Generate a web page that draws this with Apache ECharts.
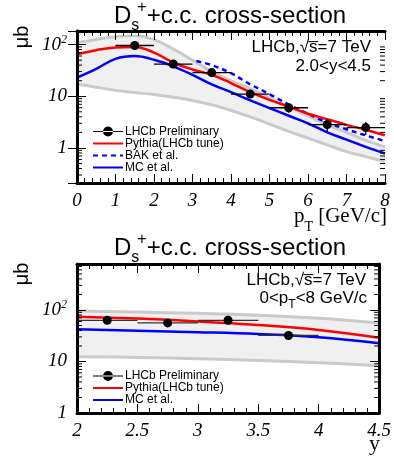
<!DOCTYPE html>
<html>
<head>
<meta charset="utf-8">
<script src="https://cdn.jsdelivr.net/npm/echarts@6/dist/echarts.min.js"></script>
<style>
  html, body { margin: 0; padding: 0; background: #fff; }
  #chart { width: 394px; height: 462px; }
</style>
</head>
<body>
<div id="chart"></div>
<script>
// ---- pT spectrum, 2.0<y<4.5 ----
const ptCenters = [1.5, 2.5, 3.5, 4.5, 5.5, 6.5, 7.5];
const ptValues = [96, 42, 28.7, 11, 6.0, 2.84, 2.48];
const ptErrors = [8, 4, 3, 1.5, 1.2, 0.8, 0.7];
const ptHalfBin = 0.5;

const ptGrid = [0, 0.5, 1, 1.5, 2, 2.5, 3, 3.5, 4, 4.5, 5, 5.5, 6, 6.5, 7, 7.5, 8];
const pythiaPt = [65, 78, 88, 90, 70, 45, 33, 26, 18, 12, 8.5, 6.3, 4.6, 3.6, 2.8, 2.25, 1.76];
const mcPt = [23, 34, 53, 60, 51, 38, 26, 17, 12, 8.3, 5.9, 4.2, 3.0, 2.0, 1.45, 1.05, 0.78];
const bandHiPt = [108, 125, 142, 148, 125, 82, 50, 30, 20, 14, 9.3, 6.3, 4.2, 2.8, 2.0, 1.4, 1.05];
const bandLoPt = [17, 15, 13, 11.8, 10.8, 9.6, 8.3, 6.8, 5.3, 4.0, 2.9, 2.1, 1.55, 1.15, 0.85, 0.68, 0.55];
const bakGrid = [3.1, 3.5, 4, 4.5, 5, 5.5, 6, 6.5, 7, 7.5, 8];
const bakPt = [48, 40, 28, 17, 11, 6.9, 4.6, 3.1, 2.3, 1.75, 1.36];

// ---- rapidity spectrum, 0<pT<8 GeV/c ----
const yCenters = [2.25, 2.75, 3.25, 3.75];
const yValues = [63, 56, 63, 32];
const yErrors = [4, 4, 4, 3];
const yHalfBin = 0.25;

const yGrid = [2, 2.5, 3, 3.5, 4, 4.5];
const pythiaY = [74, 68, 60, 51, 41, 29];
const mcY = [42, 39.5, 37, 34, 29.5, 22.5];
const bandHiY = [95, 91, 86, 79, 69, 56];
const bandLoY = [12.4, 12, 11.3, 10.5, 9.5, 8.3];

const serif = 'Liberation Serif';
const sans = 'Liberation Sans';
const RED = '#ff0000', BLUE = '#0000ff', GREY = '#cacaca', FILL = '#f0f0f0';

function pairs(xs, ys) {
  return xs.map((x, i) => [x, ys[i]]);
}

function xAxes(grid, min, max, interval) {
  const base = {
    type: 'value', gridIndex: grid, min: min, max: max, interval: interval, z: 10,
    axisLine: { show: true, onZero: false, lineStyle: { color: '#000', width: 3 } },
    axisTick: { show: true, inside: true, length: 9, lineStyle: { color: '#000', width: 1 } },
    minorTick: { show: true, splitNumber: 5, length: 5, lineStyle: { color: '#000', width: 1 } },
    splitLine: { show: false }
  };
  return [
    Object.assign({}, base, {
      position: 'bottom',
      axisLabel: { margin: 8, color: '#000', fontFamily: serif, fontStyle: 'italic', fontSize: 19 }
    }),
    Object.assign({}, base, { position: 'top', axisLabel: { show: false } })
  ];
}

function logLabel(v) {
  const e = Math.round(Math.log10(v));
  if (e === 2) return '10{sup|2}';
  if (e === 1) return '10';
  if (e === 0) return '1';
  return '';
}

function yAxes(grid, min, max, showMin) {
  const base = {
    type: 'log', logBase: 10, gridIndex: grid, min: min, max: max, z: 10,
    axisLine: { show: true, lineStyle: { color: '#000', width: 3 } },
    axisTick: { show: true, inside: true, length: 9, lineStyle: { color: '#000', width: 1 } },
    splitLine: { show: false }
  };
  return [
    Object.assign({}, base, {
      position: 'left',
      axisLabel: {
        margin: 10, color: '#000', fontFamily: serif, fontStyle: 'italic', fontSize: 19,
        showMinLabel: showMin, showMaxLabel: false, formatter: logLabel,
        rich: { sup: { fontFamily: serif, fontStyle: 'italic', fontSize: 12, padding: [0, 0, 10, 0] } }
      }
    }),
    Object.assign({}, base, { position: 'right', axisLabel: { show: false } })
  ];
}

// minor ticks of the log axes (2..9 per decade), both sides
function logMinorTicks(ai, lo, hi, xMin, xMax) {
  const vals = [];
  for (let d = -1; d <= 3; d++) {
    for (let k = 2; k <= 9; k++) {
      const t = k * Math.pow(10, d);
      if (t > lo && t < hi) vals.push([xMin, t]);
    }
  }
  return {
    type: 'custom', xAxisIndex: ai, yAxisIndex: ai, silent: true, clip: false, z: 20,
    data: vals,
    renderItem(params, api) {
      const l = api.coord([xMin, api.value(1)]);
      const r = api.coord([xMax, api.value(1)]);
      const st = { stroke: '#000', lineWidth: 1 };
      return {
        type: 'group', children: [
          { type: 'line', shape: { x1: l[0], y1: l[1], x2: l[0] + 5, y2: l[1] }, style: st },
          { type: 'line', shape: { x1: r[0] - 5, y1: r[1], x2: r[0], y2: r[1] }, style: st }
        ]
      };
    }
  };
}

function band(ai, xs, lo, hi) {
  return {
    type: 'custom', xAxisIndex: ai, yAxisIndex: ai, silent: true, clip: true, z: 1,
    data: xs.map((x, i) => [x, lo[i], hi[i]]),
    renderItem(params, api) {
      if (params.dataIndex !== 0) return null;
      const top = xs.map((x, i) => api.coord([x, hi[i]]));
      const bot = xs.map((x, i) => api.coord([x, lo[i]])).reverse();
      return { type: 'polygon', shape: { points: top.concat(bot) }, style: { fill: FILL } };
    }
  };
}

function curve(ai, name, xs, ys, color, width, dash, z) {
  return {
    type: 'line', name: name, xAxisIndex: ai, yAxisIndex: ai,
    data: pairs(xs, ys), smooth: 0.4, symbol: 'none', z: z,
    lineStyle: { color: color, width: width, type: dash || 'solid' },
    itemStyle: { color: color }
  };
}

function errorBars(ai, xs, ys, errs, hw, color) {
  return {
    type: 'custom', xAxisIndex: ai, yAxisIndex: ai, silent: true, clip: true, z: 8,
    data: xs.map((x, i) => [x, ys[i], errs[i]]),
    renderItem(params, api) {
      const x = api.value(0), y = api.value(1), e = api.value(2);
      const a = api.coord([x - hw, y]), b = api.coord([x + hw, y]);
      const t = api.coord([x, y + e]), u = api.coord([x, y - e]);
      const st = { stroke: color, lineWidth: 1.3 };
      return {
        type: 'group', children: [
          { type: 'line', shape: { x1: a[0], y1: a[1], x2: b[0], y2: b[1] }, style: st },
          { type: 'line', shape: { x1: t[0], y1: t[1], x2: u[0], y2: u[1] }, style: st }
        ]
      };
    }
  };
}

function points(ai, xs, ys) {
  return {
    type: 'scatter', name: 'LHCb Preliminary', xAxisIndex: ai, yAxisIndex: ai,
    data: pairs(xs, ys), symbol: 'circle', symbolSize: 9, z: 9,
    itemStyle: { color: '#000', opacity: 1 }
  };
}

const pointIcon = 'path://M0,4.4L30,4.4L30,5.6L0,5.6Z M10,5A5,5,0,1,0,20,5A5,5,0,1,0,10,5Z';

function legend(top, names) {
  return {
    orient: 'vertical', left: 92, top: top, padding: 0, itemGap: 0,
    itemWidth: 30, itemHeight: 10, selectedMode: false,
    textStyle: { fontFamily: sans, fontSize: 12, color: '#000', padding: [0, 0, 0, -3] },
    data: [{ name: 'LHCb Preliminary', icon: pointIcon, itemStyle: { color: '#000', opacity: 1 } }]
      .concat(names.map(n => ({ name: n, itemStyle: { opacity: 0 } })))
  };
}

function txt(x, y, text, size, family, align, rich, extra) {
  return Object.assign({
    type: 'text', x: x, y: y, z: 100,
    style: {
      text: text, fill: '#000', fontSize: size, fontFamily: family,
      align: align, verticalAlign: 'middle', rich: rich || {}
    }
  }, extra || {});
}

const titleRich = {
  sub: { fontSize: 16, fontFamily: sans, padding: [20, 0, 0, 0], width: 6 },
  sup: { fontSize: 16, fontFamily: sans, padding: [0, 0, 16, 0] }
};
const title = 'D{sub|s}{sup|+}+c.c. cross-section';
const subRich = (size, fam, pad) => ({ sub: { fontSize: size, fontFamily: fam, padding: [pad, 0, 0, 0] } });

const option = {
  animation: false,
  backgroundColor: '#fff',
  grid: [
    { left: 77, right: 9, top: 31, height: 152 },
    { left: 77, right: 13, top: 264, height: 149 }
  ],
  xAxis: xAxes(0, 0, 8, 1).concat(xAxes(1, 2, 4.5, 0.5)),
  yAxis: yAxes(0, 0.21, 183, false).concat(yAxes(1, 1, 780, true)),
  legend: [
    legend(125.5, ['Pythia(LHCb tune)', 'BAK et al.', 'MC et al.']),
    legend(370, ['Pythia(LHCb tune)', 'MC et al.'])
  ],
  series: [
    band(0, ptGrid, bandLoPt, bandHiPt),
    curve(0, 'band-hi', ptGrid, bandHiPt, GREY, 3, null, 2),
    curve(0, 'band-lo', ptGrid, bandLoPt, GREY, 3, null, 2),
    curve(0, 'MC et al.', ptGrid, mcPt, BLUE, 2.5, null, 4),
    curve(0, 'BAK et al.', bakGrid, bakPt, BLUE, 2.5, [5, 4], 4),
    curve(0, 'Pythia(LHCb tune)', ptGrid, pythiaPt, RED, 2.5, null, 5),
    errorBars(0, ptCenters, ptValues, ptErrors, ptHalfBin, '#000'),
    points(0, ptCenters, ptValues),
    logMinorTicks(0, 0.21, 183, 0, 8),

    band(2, yGrid, bandLoY, bandHiY),
    curve(2, 'band-hi', yGrid, bandHiY, GREY, 3, null, 2),
    curve(2, 'band-lo', yGrid, bandLoY, GREY, 3, null, 2),
    curve(2, 'MC et al.', yGrid, mcY, BLUE, 2.5, null, 4),
    curve(2, 'Pythia(LHCb tune)', yGrid, pythiaY, RED, 2.5, null, 5),
    errorBars(2, yCenters, yValues, yErrors, yHalfBin, '#333'),
    points(2, yCenters, yValues),
    logMinorTicks(2, 1, 780, 2, 4.5)
  ],
  graphic: [
    txt(114, 16, title, 24, sans, 'left', titleRich),
    txt(114, 248, title, 24, sans, 'left', titleRich),
    txt(22, 37, 'μb', 20, sans, 'center', null, { rotation: Math.PI / 2 }),
    txt(22, 274, 'μb', 20, sans, 'center', null, { rotation: Math.PI / 2 }),
    txt(371, 47, 'LHCb,√s\u0305=7 TeV', 17, sans, 'right'),
    txt(371, 66.5, '2.0<y<4.5', 17, sans, 'right'),
    txt(366, 280, 'LHCb,√s\u0305=7 TeV', 17, sans, 'right'),
    txt(367, 298, '0<p{sub|T}<8 GeV/c', 17, sans, 'right', subRich(12, sans, 14)),
    txt(387, 216, 'p{sub|T} [GeV/c]', 21, serif, 'right', subRich(14, serif, 22)),
    txt(380, 444.5, 'y', 22, serif, 'right')
  ]
};

const chart = echarts.init(document.getElementById('chart'));
chart.setOption(option);
</script>
</body>
</html>
